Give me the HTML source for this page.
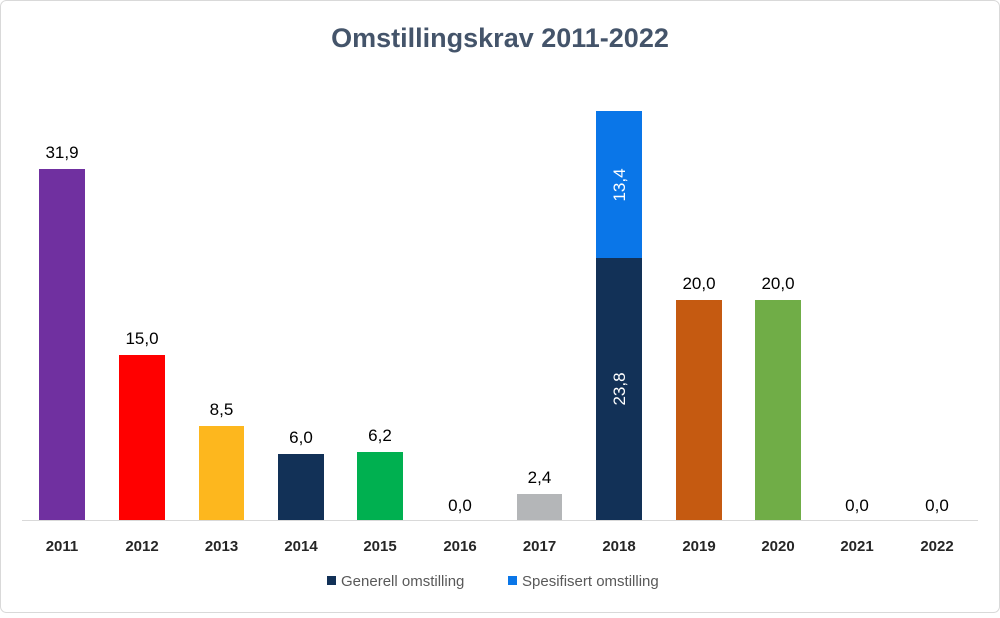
<!DOCTYPE html>
<html><head><meta charset="utf-8"><style>
body{margin:0;background:#fff}
</style></head><body>
<svg width="1000" height="613" xmlns="http://www.w3.org/2000/svg" font-family="Liberation Sans, sans-serif">
<rect x="0.5" y="0.5" width="999" height="612" rx="6" fill="#fff" stroke="#d9d9d9"/>
<text x="500" y="47" text-anchor="middle" font-size="27" font-weight="bold" fill="#44546A">Omstillingskrav 2011-2022</text>
<line x1="22" y1="520.5" x2="978" y2="520.5" stroke="#d9d9d9" stroke-width="1"/>
<g>
<rect x="39" y="169" width="46" height="351" fill="#7030A0"/>
<rect x="119" y="355" width="46" height="165" fill="#FF0000"/>
<rect x="199" y="426" width="45" height="94" fill="#FDB71E"/>
<rect x="278" y="454" width="46" height="66" fill="#123157"/>
<rect x="357" y="452" width="46" height="68" fill="#00B050"/>
<rect x="517" y="494" width="45" height="26" fill="#B4B6B8"/>
<rect x="596" y="258" width="46" height="262" fill="#123157"/>
<rect x="596" y="111" width="46" height="147" fill="#0A76E8"/>
<rect x="676" y="300" width="46" height="220" fill="#C55A11"/>
<rect x="755" y="300" width="46" height="220" fill="#70AD47"/>
</g>
<g font-size="17" fill="#000" text-anchor="middle">
<text x="62" y="158">31,9</text>
<text x="142" y="344">15,0</text>
<text x="221.5" y="415">8,5</text>
<text x="301" y="443">6,0</text>
<text x="380" y="441">6,2</text>
<text x="460" y="511">0,0</text>
<text x="539.5" y="483">2,4</text>
<text x="699" y="289">20,0</text>
<text x="778" y="289">20,0</text>
<text x="857" y="511">0,0</text>
<text x="937" y="511">0,0</text>
</g>
<g font-size="17" fill="#fff" text-anchor="middle">
<text transform="translate(625,389) rotate(-90)">23,8</text>
<text transform="translate(625,185) rotate(-90)">13,4</text>
</g>
<g font-size="15" font-weight="bold" fill="#262626" text-anchor="middle">
<text x="62" y="551">2011</text><text x="142" y="551">2012</text><text x="221.5" y="551">2013</text>
<text x="301" y="551">2014</text><text x="380" y="551">2015</text><text x="460" y="551">2016</text>
<text x="539.5" y="551">2017</text><text x="619" y="551">2018</text><text x="699" y="551">2019</text>
<text x="778" y="551">2020</text><text x="857" y="551">2021</text><text x="937" y="551">2022</text>
</g>
<rect x="327" y="576" width="9" height="9" fill="#123157"/>
<text x="341" y="586" font-size="15" fill="#595959">Generell omstilling</text>
<rect x="508" y="576" width="9" height="9" fill="#0A76E8"/>
<text x="522" y="586" font-size="15" fill="#595959">Spesifisert omstilling</text>
</svg>
</body></html>
